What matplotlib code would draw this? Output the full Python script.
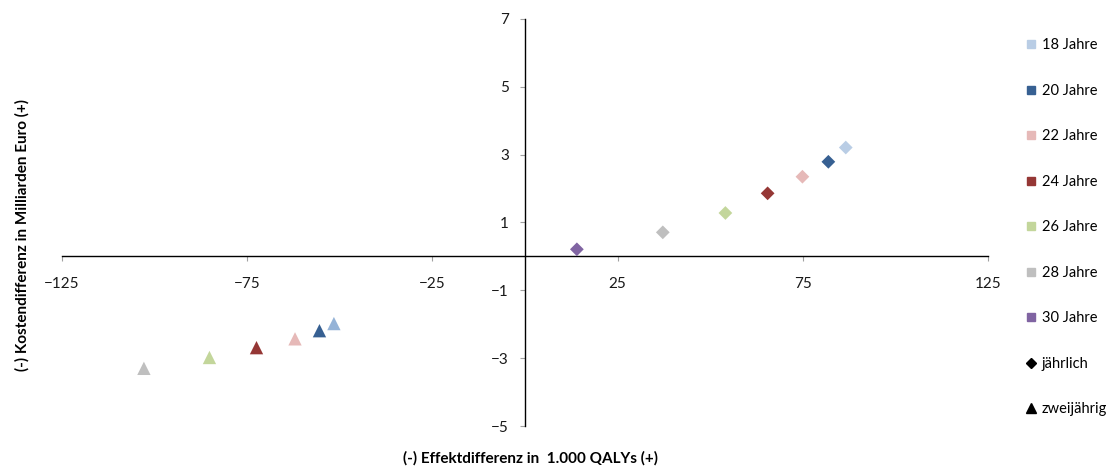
import matplotlib
matplotlib.use("Agg")
import matplotlib.pyplot as plt
from matplotlib.lines import Line2D

plt.rcParams["font.family"] = ["Lato", "DejaVu Sans"]

# Altersgruppen (Startalter des Screenings) und Farben
ages = ["18 Jahre", "20 Jahre", "22 Jahre", "24 Jahre", "26 Jahre", "28 Jahre", "30 Jahre"]
age_colors = ["#B9CDE5", "#376092", "#E6B9B8", "#953735", "#C3D69B", "#BFBFBF", "#8064A2"]

# jährliches Screening: Effekt (1.000 QALYs) / Kosten (Mrd. Euro)
annual_qaly = [86.6, 81.9, 74.9, 65.5, 54.1, 37.2, 14.0]
annual_cost = [3.21, 2.79, 2.35, 1.86, 1.28, 0.71, 0.21]

# zweijährliches Screening (kein Wert für 30 Jahre)
biennial_qaly = [-51.6, -55.5, -62.1, -72.5, -85.2, -102.9]
biennial_cost = [-1.98, -2.19, -2.43, -2.69, -2.98, -3.30]
biennial_colors = ["#95B3D7", "#376092", "#E6B9B8", "#953735", "#C3D69B", "#BFBFBF"]

xticks = [-125, -75, -25, 25, 75, 125]
yticks = [-5, -3, -1, 1, 3, 5, 7]

fig = plt.figure(figsize=(11.16, 4.70), dpi=100)
ax = fig.add_axes([0.0556, 0.0936, 0.8297, 0.866])

ax.scatter(annual_qaly, annual_cost, marker="D", s=7.0 ** 2, c=age_colors, linewidths=0, zorder=3)
ax.scatter(biennial_qaly, biennial_cost, marker="^", s=9.6 ** 2, c=biennial_colors, linewidths=0, zorder=3)

ax.set_xlim(-125, 125)
ax.set_ylim(-5, 7)
ax.spines["left"].set_position(("data", 0))
ax.spines["bottom"].set_position(("data", 0))
ax.spines["top"].set_visible(False)
ax.spines["right"].set_visible(False)
for s in ("left", "bottom"):
    ax.spines[s].set_linewidth(1.0)
    ax.spines[s].set_color("black")

ax.set_xticks(xticks)
ax.set_yticks(yticks)
ax.tick_params(axis="x", direction="out", length=3.5, width=0.8, color="#A0A0A0",
               pad=11, labelsize=11, labelcolor="#1a1a1a")
ax.tick_params(axis="y", direction="out", length=3.5, width=0.8, color="#A0A0A0",
               pad=8, labelsize=11, labelcolor="#1a1a1a")

fig.text(0.475, 0.025, "(-) Effektdifferenz in  1.000 QALYs (+)", ha="center", va="center",
         fontsize=11, fontweight="bold")
fig.text(0.02, 0.50, "(-) Kostendifferenz in Milliarden Euro (+)", ha="center", va="center",
         rotation=90, fontsize=11, fontweight="bold")

handles = [Line2D([], [], marker="s", ls="", color=c, markersize=6) for c in age_colors]
handles += [Line2D([], [], marker="D", ls="", color="black", markersize=5),
            Line2D([], [], marker="^", ls="", color="black", markersize=7.5)]
labels = ages + ["jährlich", "zweijährig"]
fig.legend(handles, labels, loc="upper left", bbox_to_anchor=(0.915, 0.931),
           frameon=False, fontsize=10.5, handlelength=0.6, handletextpad=0.4,
           labelspacing=2.16, borderaxespad=0)

fig.savefig("out.png", dpi=100)
